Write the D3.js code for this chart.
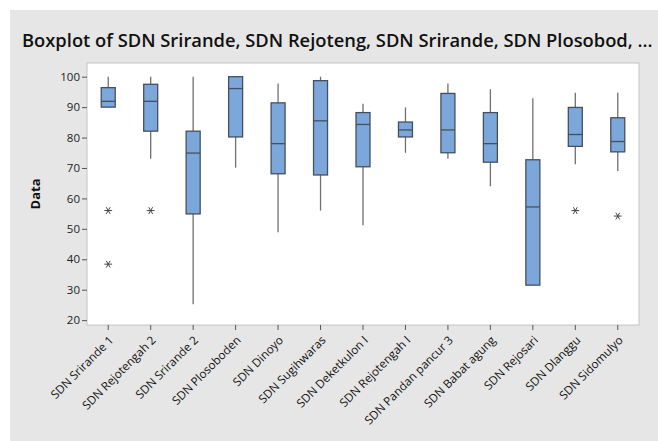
<!DOCTYPE html>
<html>
<head>
<meta charset="utf-8">
<script src="https://cdn.jsdelivr.net/npm/d3@7"></script>
<style>
  html, body { margin: 0; padding: 0; background: #fff; }
  svg { display: block; }
</style>
</head>
<body>
<svg id="chart" width="658" height="441"></svg>
<script>
const titleText = "Boxplot of SDN Srirande, SDN Rejoteng, SDN Srirande, SDN Plosobod, ...";
const categories = ["SDN Srirande 1", "SDN Rejotengah 2", "SDN Srirande 2", "SDN Plosoboden", "SDN Dinoyo",
  "SDN Sugihwaras", "SDN Deketkulon I", "SDN Rejotengah I", "SDN Pandan pancur 3", "SDN Babat agung",
  "SDN Rejosari", "SDN Dlanggu", "SDN Sidomulyo"];
const whiskerHigh = [100, 100, 100, 100, 97.8, 100, 91.1, 89.9, 97.8, 95.9, 92.9, 94.7, 94.7];
const q3Values    = [96.4, 97.5, 82.1, 100, 91.4, 98.7, 88.2, 85.1, 94.5, 88.2, 72.7, 89.9, 86.5];
const medians     = [91.9, 91.9, 74.9, 96.1, 78.0, 85.5, 84.3, 82.5, 82.5, 78.0, 57.2, 81.0, 78.7];
const q1Values    = [90.0, 82.1, 54.9, 80.2, 68.1, 67.7, 70.4, 80.2, 75.0, 71.9, 31.5, 77.1, 75.3];
const whiskerLow  = [90.0, 73.0, 25.2, 70.1, 48.9, 56.0, 51.2, 75.0, 73.0, 64.0, 31.5, 71.2, 69.0];
const outliers    = [[56.0, 38.4], [56.0], [], [], [], [], [], [], [], [], [], [56.0], [54.2]];
const yTicks = [20, 30, 40, 50, 60, 70, 80, 90, 100];
const yLabel = "Data";

const svg = d3.select("#chart");
const plot = { left: 87, right: 639, top: 63, bottom: 325 };

// outer panel
svg.append("rect").attr("x", 10).attr("y", 10).attr("width", 648).attr("height", 431).attr("fill", "#e6e6e6");
svg.append("rect").attr("x", plot.left).attr("y", plot.top)
  .attr("width", plot.right - plot.left).attr("height", plot.bottom - plot.top)
  .attr("fill", "#ffffff").attr("stroke", "#c4c4c4").attr("stroke-width", 1);

const x = d3.scaleBand().domain(categories).range([plot.left, plot.right]).paddingInner(0).paddingOuter(0);
const y = d3.scaleLinear().domain([18.4, 104.5]).range([plot.bottom, plot.top]);

// title
const title = svg.append("text").attr("x", 22).attr("y", 47)
  .attr("font-family", "'Open Sans', 'Noto Sans', sans-serif").attr("font-weight", 600)
  .attr("font-size", 17).attr("fill", "#111").text(titleText);
const tl = title.node().getComputedTextLength();
if (tl > 0) title.attr("font-size", 17 * 631 / tl);

// y axis
const yAxis = svg.append("g").attr("transform", `translate(${plot.left},0)`)
  .call(d3.axisLeft(y).tickValues(yTicks).tickSize(5).tickPadding(2));
yAxis.select(".domain").remove();
yAxis.selectAll(".tick line").attr("stroke", "#555");
yAxis.selectAll(".tick text").attr("font-family", "'Open Sans', 'Noto Sans', sans-serif")
  .attr("font-size", 11.5).attr("fill", "#222");

svg.append("text").attr("transform", `translate(40,${(plot.top + plot.bottom) / 2}) rotate(-90)`)
  .attr("text-anchor", "middle").attr("font-family", "'Open Sans', 'Noto Sans', sans-serif")
  .attr("font-weight", 700).attr("font-size", 13).attr("fill", "#111").text(yLabel);

// x axis
const xAxis = svg.append("g").attr("transform", `translate(0,${plot.bottom})`)
  .call(d3.axisBottom(x).tickSize(5).tickFormat(""));
xAxis.select(".domain").remove();
xAxis.selectAll(".tick line").attr("stroke", "#555");
svg.append("g").selectAll("text").data(categories).join("text")
  .attr("transform", d => `translate(${x(d) + x.bandwidth() / 2 + 3},${plot.bottom + 13}) rotate(-45)`)
  .attr("text-anchor", "end").attr("dy", "0.35em")
  .attr("font-family", "'Open Sans', 'Noto Sans', sans-serif").attr("font-size", 11.7).attr("fill", "#111")
  .text(d => d);

// boxes
const boxW = 14;
const g = svg.append("g");
categories.forEach((c, i) => {
  const cx = x(c) + x.bandwidth() / 2;
  const gg = g.append("g");
  if (whiskerHigh[i] > q3Values[i])
    gg.append("line").attr("x1", cx).attr("x2", cx).attr("y1", y(q3Values[i])).attr("y2", y(whiskerHigh[i]))
      .attr("stroke", "#707070").attr("stroke-width", 1.3);
  if (whiskerLow[i] < q1Values[i])
    gg.append("line").attr("x1", cx).attr("x2", cx).attr("y1", y(q1Values[i])).attr("y2", y(whiskerLow[i]))
      .attr("stroke", "#707070").attr("stroke-width", 1.3);
  gg.append("rect").attr("x", cx - boxW / 2).attr("width", boxW)
    .attr("y", y(q3Values[i])).attr("height", y(q1Values[i]) - y(q3Values[i]))
    .attr("fill", "#7ba7db").attr("stroke", "#46505c").attr("stroke-width", 1.3);
  gg.append("line").attr("x1", cx - boxW / 2).attr("x2", cx + boxW / 2)
    .attr("y1", y(medians[i])).attr("y2", y(medians[i]))
    .attr("stroke", "#46505c").attr("stroke-width", 1.3);
  outliers[i].forEach(v => {
    gg.append("path").attr("d", d3.symbol(d3.symbolAsterisk, 42)())
      .attr("transform", `translate(${cx},${y(v)}) rotate(90)`)
      .attr("fill", "none").attr("stroke", "#444").attr("stroke-width", 1);
  });
});
</script>
</body>
</html>
